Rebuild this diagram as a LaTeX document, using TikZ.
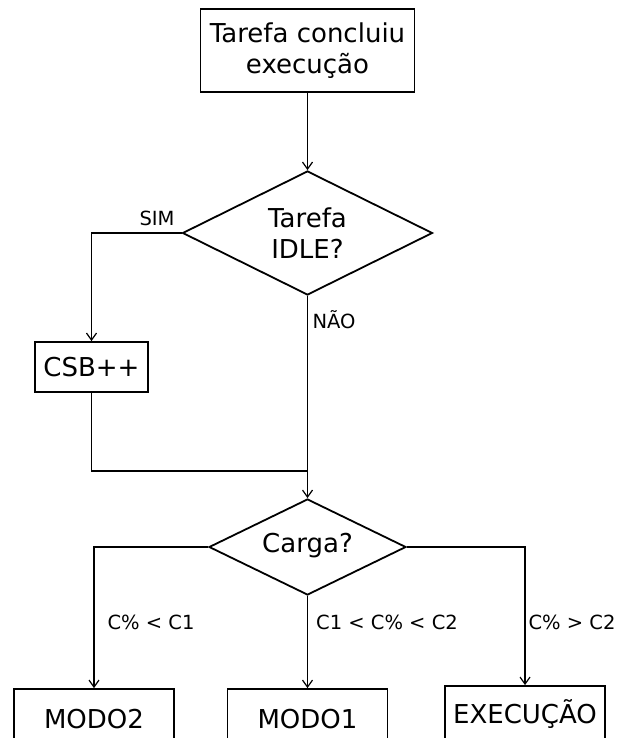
\documentclass[tikz,border=0pt]{standalone}
\usepackage{fontspec}
\setmainfont{DejaVu Sans}
\usetikzlibrary{shapes.geometric,arrows.meta}
\begin{document}
\begin{tikzpicture}[x=1pt,y=-1pt,
  txt/.style={inner sep=0pt,align=center,font=\fontsize{26}{31}\selectfont},
  box/.style={draw,line width=1.8pt,inner sep=0pt,align=center,font=\fontsize{26}{31}\selectfont},
  dec/.style={draw,diamond,line width=1.8pt,inner sep=0pt},
  lbl/.style={font=\fontsize{19.5}{23}\selectfont,inner sep=0pt},
  line/.style={line width=1.7pt},
  arr/.style={line width=1.7pt,-{Straight Barb[length=7pt,width=10pt,line width=1.2pt]}}]
\useasboundingbox (0,0) rectangle (619,738);
\clip (0,0) rectangle (619,738);
\node[box,minimum width=214pt,minimum height=83pt] (top) at (307.5,50.5) {Tarefa concluiu\\execução};
\node[dec,minimum width=250pt,minimum height=124pt] (d1) at (307.5,233) {};
\node[txt] (d1t) at (307.5,233) {Tarefa\\IDLE?};
\node[box,minimum width=113pt,minimum height=50pt] (csb) at (91.5,367) {CSB++};
\coordinate (join) at (307.5,471);
\node[dec,minimum width=197pt,minimum height=96pt] (d2) at (307.5,547) {};
\node[txt] (d2t) at (307.5,546) {Carga?};
\node[box,minimum width=160pt,minimum height=60pt] (m2) at (94,719) {MODO2};
\node[box,minimum width=160pt,minimum height=60pt] (m1) at (307.5,719) {MODO1};
\node[box,minimum width=160pt,minimum height=56pt] (ex) at (525,714) {EXECUÇÃO};

\draw[arr] (top.south) -- (d1.north);
\draw[arr] (d1.west) -| (csb.north);
\draw[arr] (d1.south) -- (d2.north);
\draw[line] (csb.south) |- (join);
\draw[arr] (d2.west) -| (m2.north);
\draw[arr] (d2.south) -- (m1.north);
\draw[arr] (d2.east) -| (ex.north);

\node[lbl] (sim) at (157,218) {SIM};
\node[lbl] (nao) at (334,320) {NÃO};
\node[lbl] (l1) at (151,622) {C\% < C1};
\node[lbl] (l2) at (387,622) {C1 < C\% < C2};
\node[lbl] (l3) at (572,622) {C\% > C2};
\end{tikzpicture}
\end{document}
